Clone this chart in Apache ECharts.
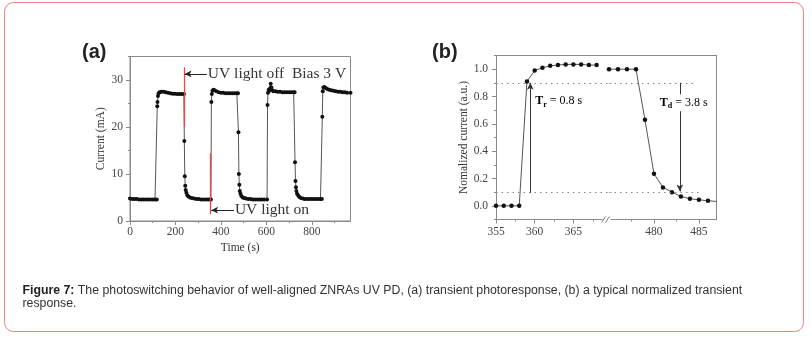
<!DOCTYPE html>
<html><head><meta charset="utf-8">
<script src="https://cdn.jsdelivr.net/npm/echarts@6/dist/echarts.min.js"></script>
<style>html,body{margin:0;padding:0;background:#fff}#c{width:812px;height:339px}</style>
</head><body><div id="c"></div>
<script>
// ---------- Panel (a): transient photoresponse ----------
const timeA = [0,10,20,30,40,50,60,70,80,90,100,110,118,
  120,121,123,126,130,137,147,157,167,177,187,197,207,217,227,237,
  239,241,243,245,248,252,257,264,272,282,292,302,312,322,332,342,350,356,
  358,360,363,367,372,380,390,400,410,420,430,440,450,460,470,475,
  477,479,481,483,486,490,496,503,510,520,530,540,550,560,570,580,590,603,
  605,607,610,613,616,619,622,626,631,640,650,660,670,680,690,700,710,720,724,
  726,728,730,732,735,740,745,752,760,768,778,788,798,808,818,828,838,844,
  846,848,851,855,861,868,876,885,895,905,915,925,935,945,955,970];
const currentA = [4.8,4.7,4.7,4.7,4.6,4.6,4.6,4.6,4.6,4.6,4.6,4.6,4.6,
  24.4,25.3,26.6,27.2,27.4,27.5,27.5,27.4,27.3,27.2,27.1,27.1,27.0,27.0,27.0,27.0,
  17.0,9.5,7.5,6.6,6.0,5.5,5.2,5.0,4.9,4.8,4.7,4.7,4.6,4.6,4.6,4.6,4.6,4.6,
  25.3,27.0,27.7,27.9,27.8,27.6,27.4,27.3,27.3,27.2,27.2,27.2,27.2,27.2,27.2,27.2,
  18.9,10.0,7.7,6.4,5.8,5.3,5.0,4.9,4.8,4.7,4.7,4.6,4.6,4.6,4.6,4.6,4.6,4.6,
  24.7,27.3,27.9,27.7,28.2,29.2,28.4,27.8,27.6,27.6,27.5,27.5,27.4,27.4,27.4,27.4,27.4,27.4,27.4,
  12.5,8.5,7.2,6.4,5.8,5.4,5.1,4.9,4.8,4.7,4.7,4.7,4.7,4.7,4.7,4.7,4.7,4.7,
  22.2,27.6,28.4,28.5,28.3,28.1,27.9,27.8,27.7,27.6,27.5,27.5,27.4,27.4,27.3,27.3];
const ticksAx = [0,200,400,600,800];
const minorAx = [100,300,500,700,900];
const ticksAy = [0,10,20,30];
const minorAy = [5,15,25,35];
// annotation values (a)
const offMarkX = 238, offMarkY = [20.1, 32.7], offArrow = {y: 31.3, from: 338, to: 240};
const onMarkX = 355, onMarkY = [1.5, 14.4], onArrow = {y: 2.3, from: 457, to: 357};

// ---------- Panel (b): normalized transient response ----------
const timeB1 = [355,356,357,358,359,360,361,362,363,364,365,366,367,368];
const normB1 = [0,0,0,0,0.91,0.99,1.01,1.025,1.03,1.035,1.035,1.035,1.03,1.03];
const timeB2 = [475,476,477,478,479,480,481,482,483,484,485,486,487];
const normB2 = [1.0,1.0,1.0,1.0,0.63,0.235,0.135,0.10,0.068,0.052,0.044,0.037,0.032];
const ticksB1x = [355,360,365];
const minorB1x = [357.5,362.5,367.5];
const ticksB2x = [480,485];
const minorB2x = [477.5,482.5];
const ticksBy = [0,0.2,0.4,0.6,0.8,1.0];
const minorBy = [-0.1,0.1,0.3,0.5,0.7,0.9,1.1];
const level90 = 0.9, level10 = 0.1;
const trX = 359.43, tdX = 482.88;

const SERIF = "'Liberation Serif','Times New Roman',serif";
const SANS = "'Liberation Sans',Arial,sans-serif";
const AX = '#8a8a8a';
const LBL = '#444';

function baseAxis(extra) {
  return Object.assign({
    type: 'value', scale: false,
    splitLine: {show: false},
    axisLine: {show: true, onZero: false, lineStyle: {color: AX, width: 1}},
    axisTick: {show: true, length: 4, lineStyle: {color: AX}},
    axisLabel: {show: true, color: LBL, fontFamily: SERIF, fontSize: 11.5},
    nameTextStyle: {color: '#333', fontFamily: SERIF, fontSize: 11.5}
  }, extra);
}
function minorAxis(extra, values) {
  return Object.assign(baseAxis({}), {
    axisLine: {show: false, onZero: false},
    axisLabel: {show: false},
    axisTick: {show: true, length: 2, customValues: values, lineStyle: {color: AX}}
  }, extra);
}
function lineOnly(extra) {
  return Object.assign(baseAxis({}), {
    axisTick: {show: false}, axisLabel: {show: false}
  }, extra);
}
function lbl(values, margin, fmt) {
  const o = {show: true, customValues: values, color: LBL, fontFamily: SERIF, fontSize: 11.5, margin: margin};
  if (fmt) o.formatter = fmt;
  return o;
}
function tk(values) {
  return {show: true, length: 4, customValues: values, lineStyle: {color: AX}};
}

const chart = echarts.init(document.getElementById('c'), null, {renderer: 'canvas'});

const option = {
  animation: false,
  backgroundColor: '#fff',
  grid: [
    {left: 130, top: 56.5, width: 220.5, height: 164.5, show: true, borderColor: AX, borderWidth: 1, backgroundColor: 'transparent'},
    {left: 496, top: 55.5, width: 116.1, height: 164},
    {left: 609, top: 55.5, width: 107, height: 164}
  ],
  xAxis: [
    baseAxis({gridIndex: 0, position: 'bottom', min: 0, max: 970,
      axisTick: tk(ticksAx), axisLabel: lbl(ticksAx, 5),
      name: 'Time (s)', nameLocation: 'middle', nameGap: 21}),
    minorAxis({gridIndex: 0, position: 'bottom', min: 0, max: 970}, minorAx),
    baseAxis({gridIndex: 1, position: 'bottom', min: 355, max: 370,
      axisTick: tk(ticksB1x), axisLabel: lbl(ticksB1x, 6)}),
    minorAxis({gridIndex: 1, position: 'bottom', min: 355, max: 370}, minorB1x),
    lineOnly({gridIndex: 1, position: 'top', min: 355, max: 370}),
    baseAxis({gridIndex: 2, position: 'bottom', min: 475, max: 486.9,
      axisTick: tk(ticksB2x), axisLabel: lbl(ticksB2x, 6)}),
    minorAxis({gridIndex: 2, position: 'bottom', min: 475, max: 486.9}, minorB2x),
    lineOnly({gridIndex: 2, position: 'top', min: 475, max: 486.9})
  ],
  yAxis: [
    baseAxis({gridIndex: 0, position: 'left', min: 0, max: 35,
      axisTick: tk(ticksAy), axisLabel: lbl(ticksAy, 7),
      name: 'Current (mA)', nameLocation: 'middle', nameGap: 23}),
    minorAxis({gridIndex: 0, position: 'left', min: 0, max: 35}, minorAy),
    baseAxis({gridIndex: 1, position: 'left', min: -0.1, max: 1.1,
      axisTick: tk(ticksBy), axisLabel: lbl(ticksBy, 8, v => v.toFixed(1)),
      name: 'Nomalized current (a.u.)', nameLocation: 'middle', nameGap: 26}),
    minorAxis({gridIndex: 1, position: 'left', min: -0.1, max: 1.1}, minorBy),
    lineOnly({gridIndex: 2, position: 'right', min: -0.1, max: 1.1})
  ],
  series: [
    {
      type: 'line', xAxisIndex: 0, yAxisIndex: 0,
      data: timeA.map((t, i) => [t, currentA[i]]),
      symbol: 'circle', symbolSize: 4, showAllSymbol: true,
      lineStyle: {color: '#555', width: 1},
      itemStyle: {color: '#111'},
      markLine: {
        silent: true, animation: false, symbol: ['none', 'none'], label: {show: false},
        data: [
          [{coord: [offMarkX, offMarkY[0]], lineStyle: {color: '#ee4444', width: 1.3, type: 'solid'}}, {coord: [offMarkX, offMarkY[1]]}],
          [{coord: [onMarkX, onMarkY[0]], lineStyle: {color: '#ee4444', width: 1.3, type: 'solid'}}, {coord: [onMarkX, onMarkY[1]]}],
          [{coord: [offArrow.from, offArrow.y], symbol: 'none', lineStyle: {color: '#222', width: 1, type: 'solid'}},
           {coord: [offArrow.to, offArrow.y], symbol: 'arrow', symbolSize: [5, 7]}],
          [{coord: [onArrow.from, onArrow.y], symbol: 'none', lineStyle: {color: '#222', width: 1, type: 'solid'}},
           {coord: [onArrow.to, onArrow.y], symbol: 'arrow', symbolSize: [5, 7]}]
        ]
      }
    },
    {
      type: 'line', xAxisIndex: 2, yAxisIndex: 2,
      data: timeB1.map((t, i) => [t, normB1[i]]),
      symbol: 'circle', symbolSize: 4.5, showAllSymbol: true,
      lineStyle: {color: '#555', width: 1},
      itemStyle: {color: '#111'},
      markLine: {
        silent: true, animation: false, symbol: ['none', 'none'], label: {show: false},
        data: [
          [{coord: [355, level90], lineStyle: {color: '#888', width: 1.2, type: [1.5, 4]}}, {coord: [370, level90]}],
          [{coord: [355, level10], lineStyle: {color: '#888', width: 1.2, type: [1.5, 4]}}, {coord: [370, level10]}],
          [{coord: [trX, 0.095], symbol: 'none', lineStyle: {color: '#333', width: 1, type: 'solid'}},
           {coord: [trX, level90], symbol: 'arrow', symbolSize: [5, 7]}]
        ]
      }
    },
    {
      type: 'line', xAxisIndex: 5, yAxisIndex: 4,
      data: timeB2.map((t, i) => [t, normB2[i]]),
      symbol: 'circle', symbolSize: 4.5, showAllSymbol: true,
      lineStyle: {color: '#555', width: 1},
      itemStyle: {color: '#111'},
      markLine: {
        silent: true, animation: false, symbol: ['none', 'none'], label: {show: false},
        data: [
          [{coord: [475, level90], lineStyle: {color: '#888', width: 1.2, type: [1.5, 4]}}, {coord: [484.4, level90]}],
          [{coord: [475, level10], lineStyle: {color: '#888', width: 1.2, type: [1.5, 4]}}, {coord: [485.0, level10]}],
          [{coord: [tdX, level90], symbol: 'none', lineStyle: {color: '#333', width: 1, type: 'solid'}},
           {coord: [tdX, 0.105], symbol: 'arrow', symbolSize: [5, 7]}]
        ]
      }
    }
  ]
};
chart.setOption(option);

// ---------- annotations ----------
const px = (xi, yi, v) => chart.convertToPixel({xAxisIndex: xi, yAxisIndex: yi}, v);
const pOff = px(0, 0, [offArrow.from, offArrow.y]);
const pOn = px(0, 0, [onArrow.from, onArrow.y]);
const pTr = px(2, 2, [trX, 0.765]);
const pTd = px(5, 4, [tdX, 0.755]);
const BREAK_X = 606.5, BREAK_Y = 219.5;

const rich = {
  t: {fontFamily: SERIF, fontWeight: 'bold', fontSize: 12, color: '#333', lineHeight: 15},
  s: {fontFamily: SERIF, fontWeight: 'bold', fontSize: 8, color: '#333', lineHeight: 15, verticalAlign: 'bottom', padding: [6, 0, 0, 0]},
  n: {fontFamily: SERIF, fontSize: 12, color: '#333', lineHeight: 15}
};

chart.setOption({
  graphic: [
    {type: 'rect', z: -10, silent: true, shape: {x: 4.5, y: 2.5, width: 799, height: 329, r: 9},
      style: {fill: 'none', stroke: '#ef8080', lineWidth: 1}},
    {type: 'text', left: 82, top: 42, silent: true,
      style: {text: '(a)', font: "bold 20px " + SANS, fill: '#222'}},
    {type: 'text', left: 432, top: 42, silent: true,
      style: {text: '(b)', font: "bold 20px " + SANS, fill: '#222'}},
    {type: 'text', x: pOff[0] + 1, y: pOff[1], silent: true,
      style: {text: 'UV light off  Bias 3 V', font: "15.5px " + SERIF, fill: '#333', verticalAlign: 'middle', align: 'left'}},
    {type: 'text', x: pOn[0] + 1, y: pOn[1], silent: true,
      style: {text: 'UV light on', font: "15.5px " + SERIF, fill: '#333', verticalAlign: 'middle', align: 'left'}},
    {type: 'text', x: pTr[0] + 5, y: pTr[1], silent: true,
      style: {text: '{t|T}{s|r}{n| = 0.8 s}', rich: rich, verticalAlign: 'middle', align: 'left'}},
    {type: 'text', x: pTd[0] - 21, y: pTd[1], silent: true, z: 10,
      style: {text: '{t|T}{s|d}{n| = 3.8 s}', rich: rich, verticalAlign: 'middle', align: 'left', backgroundColor: '#fff', padding: [1, 1]}},
    {type: 'rect', silent: true, z: 10, shape: {x: BREAK_X - 4, y: BREAK_Y - 3, width: 8, height: 6}, style: {fill: '#fff'}},
    {type: 'line', silent: true, z: 11, shape: {x1: BREAK_X - 5, y1: BREAK_Y + 3, x2: BREAK_X - 1, y2: BREAK_Y - 3}, style: {stroke: '#777', lineWidth: 1}},
    {type: 'line', silent: true, z: 11, shape: {x1: BREAK_X - 1, y1: BREAK_Y + 3, x2: BREAK_X + 3, y2: BREAK_Y - 3}, style: {stroke: '#777', lineWidth: 1}},
    {type: 'text', left: 22.5, top: 284.5, silent: true,
      style: {text: '{b|Figure 7:} The photoswitching behavior of well-aligned ZNRAs UV PD, (a) transient photoresponse, (b) a typical normalized transient\nresponse.',
        rich: {b: {fontWeight: 'bold', fontFamily: SANS, fontSize: 12.3, fill: '#222', lineHeight: 13}},
        font: "12.3px " + SANS, fill: '#333', lineHeight: 13}}
  ]
});
</script></body></html>
